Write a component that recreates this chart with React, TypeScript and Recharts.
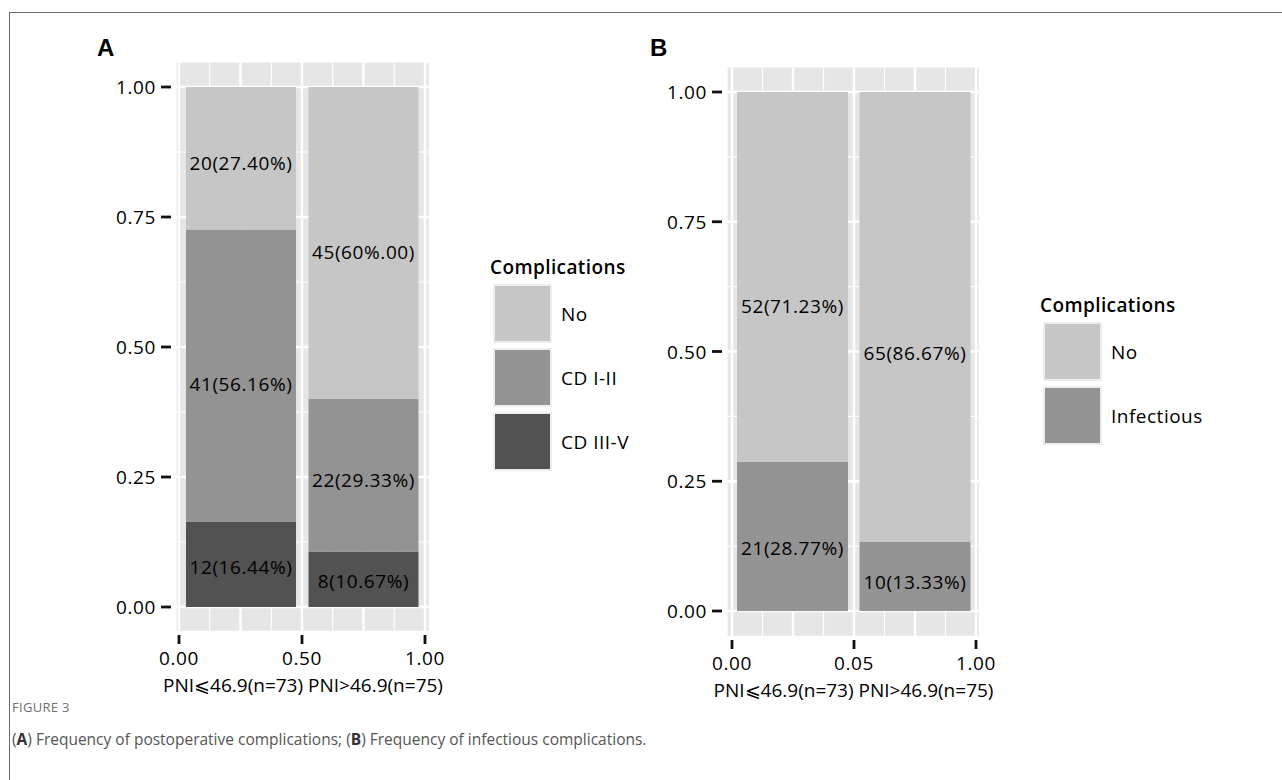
import React from "react";
import { ComposedChart, Bar, XAxis, YAxis, CartesianGrid, LabelList } from "recharts";

// ---- data ----
const groups = ["PNI⩽46.9(n=73)", "PNI>46.9(n=75)"];

// panel A: postoperative complications (share of each group)
const noA = [0.274, 0.6];
const cd12A = [0.5616, 0.2933];
const cd35A = [0.1644, 0.1067];
const noLabelsA = ["20(27.40%)", "45(60%.00)"];
const cd12LabelsA = ["41(56.16%)", "22(29.33%)"];
const cd35LabelsA = ["12(16.44%)", "8(10.67%)"];

// panel B: infectious complications
const noB = [0.7123, 0.8667];
const infB = [0.2877, 0.1333];
const noLabelsB = ["52(71.23%)", "65(86.67%)"];
const infLabelsB = ["21(28.77%)", "10(13.33%)"];

// axis ticks (grid every 0.125, labels on the majors)
const gridTicks = [0, 0.125, 0.25, 0.375, 0.5, 0.625, 0.75, 0.875, 1];
const yMajor = [0, 0.25, 0.5, 0.75, 1];
const yTickLabels = ["0.00", "0.25", "0.50", "0.75", "1.00"];
const xMajor = [0, 0.5, 1];
const xTickLabelsA = ["0.00", "0.50", "1.00"];
const xTickLabelsB = ["0.00", "0.05", "1.00"];
const xTitle = groups.join(" ");

const COLORS = { no: "#c6c6c6", mid: "#939393", dark: "#525252" };
const FONT = "'Open Sans', 'Noto Sans', sans-serif";

const dataA = groups.map((g, i) => ({
  group: g,
  cd35: cd35A[i],
  cd12: cd12A[i],
  no: noA[i],
  cd35Label: cd35LabelsA[i],
  cd12Label: cd12LabelsA[i],
  noLabel: noLabelsA[i],
}));

const dataB = groups.map((g, i) => ({
  group: g,
  inf: infB[i],
  no: noB[i],
  infLabel: infLabelsB[i],
  noLabel: noLabelsB[i],
}));

const textStyle = { fontFamily: FONT, fontSize: 19, fill: "#000000", letterSpacing: 0.6 };

function gridLine(p: any) {
  return (
    <line
      key={p.key ?? `${p.x1}-${p.y1}`}
      x1={p.x1}
      y1={p.y1}
      x2={p.x2}
      y2={p.y2}
      stroke="#ffffff"
      strokeWidth={p.index % 2 === 0 ? 2.4 : 1.2}
    />
  );
}

function YTick({ x, y, payload }: any) {
  const i = yMajor.indexOf(payload.value);
  if (i < 0) return <g />;
  return (
    <g>
      <line x1={x - 13} x2={x - 3} y1={y} y2={y} stroke="#111" strokeWidth={2.8} />
      <text x={x - 18} y={y} textAnchor="end" dominantBaseline="central" style={textStyle}>
        {yTickLabels[i]}
      </text>
    </g>
  );
}

const makeXTick = (labels: string[]) =>
  function XTick({ x, y, payload }: any) {
    const i = xMajor.indexOf(payload.value);
    if (i < 0) return <g />;
    return (
      <g>
        <line x1={x} x2={x} y1={y + 1} y2={y + 10} stroke="#111" strokeWidth={2.8} />
        <text x={x} y={y + 24} textAnchor="middle" dominantBaseline="central" style={textStyle}>
          {labels[i]}
        </text>
      </g>
    );
  };

const makeBarLabel = (frac: number) =>
  function BarLabel(props: any) {
    const vb = props.viewBox ?? props;
    const x = vb.x ?? props.x;
    const y = vb.y ?? props.y;
    const w = vb.width ?? props.width;
    const h = vb.height ?? props.height;
    return (
      <text x={x + w / 2} y={y + h * frac} textAnchor="middle" dominantBaseline="central" style={textStyle}>
        {props.value}
      </text>
    );
  };

interface LegendItem {
  label: string;
  color: string;
}

function LegendBox({ left, top, items }: { left: number; top: number; items: LegendItem[] }) {
  return (
    <div style={{ position: "absolute", left, top, fontFamily: FONT, color: "#000" }}>
      <div style={{ fontSize: 19, fontWeight: 600, lineHeight: "24px", letterSpacing: 0.4 }}>Complications</div>
      <div style={{ marginTop: 5, marginLeft: 3 }}>
        {items.map((it) => (
          <div key={it.label} style={{ display: "flex", alignItems: "center", height: 59, marginBottom: 5 }}>
            <div
              style={{
                width: 59,
                height: 59,
                boxSizing: "border-box",
                border: "2px solid #ededed",
                background: it.color,
              }}
            />
            <span style={{ marginLeft: 9, fontSize: 19, letterSpacing: 0.5 }}>{it.label}</span>
          </div>
        ))}
      </div>
    </div>
  );
}

function Panel({ data, left, margin, catPad, numPad, yPad, barSize, xLabels, labelFrac, children }: any) {
  return (
    <div style={{ position: "absolute", left, top: 0 }}>
      <ComposedChart width={640} height={705} data={data} margin={margin}>
        <CartesianGrid
          xAxisId="num"
          yAxisId="y"
          fill="#e6e6e6"
          stroke="#ffffff"
          horizontal={gridLine}
          vertical={gridLine}
        />
        <XAxis
          xAxisId="num"
          type="number"
          domain={[0, 1]}
          ticks={gridTicks}
          interval={0}
          allowDataOverflow
          padding={numPad}
          height={64}
          tickSize={0}
          tickLine={false}
          axisLine={false}
          tick={makeXTick(xLabels)}
          label={{
            value: xTitle,
            position: "insideBottom",
            offset: 4,
            style: { ...textStyle, letterSpacing: 0, textAnchor: "middle" },
          }}
        />
        <XAxis xAxisId="cat" dataKey="group" hide height={0} padding={catPad} />
        <YAxis
          yAxisId="y"
          type="number"
          domain={[0, 1]}
          ticks={gridTicks}
          interval={0}
          allowDataOverflow
          padding={yPad}
          width={60}
          tickSize={0}
          tickLine={false}
          axisLine={false}
          tick={YTick}
        />
        {children(barSize, makeBarLabel(labelFrac))}
      </ComposedChart>
    </div>
  );
}

export default function App() {
  return (
    <div
      style={{
        position: "absolute",
        left: 0,
        top: 0,
        width: 1282,
        height: 780,
        background: "#ffffff",
        overflow: "hidden",
      }}
    >
      <div
        style={{
          position: "absolute",
          left: 9,
          top: 12,
          width: 1290,
          height: 800,
          borderTop: "1px solid #6a6a6a",
          borderLeft: "1px solid #6a6a6a",
        }}
      />

      <Panel
        data={dataA}
        left={0}
        margin={{ top: 62, left: 116, right: 210, bottom: 9 }}
        catPad={{ left: 4, right: 5 }}
        numPad={{ left: 3, right: 5 }}
        yPad={{ top: 25, bottom: 25 }}
        barSize={110}
        xLabels={xTickLabelsA}
        labelFrac={0.53}
      >
        {(bs: number, Lbl: any) => [
          <Bar key="cd35" xAxisId="cat" yAxisId="y" dataKey="cd35" stackId="s" fill={COLORS.dark} barSize={bs} isAnimationActive={false}>
            <LabelList dataKey="cd35Label" content={Lbl} />
          </Bar>,
          <Bar key="cd12" xAxisId="cat" yAxisId="y" dataKey="cd12" stackId="s" fill={COLORS.mid} barSize={bs} isAnimationActive={false}>
            <LabelList dataKey="cd12Label" content={Lbl} />
          </Bar>,
          <Bar key="no" xAxisId="cat" yAxisId="y" dataKey="no" stackId="s" fill={COLORS.no} barSize={bs} isAnimationActive={false}>
            <LabelList dataKey="noLabel" content={Lbl} />
          </Bar>,
        ]}
      </Panel>

      <Panel
        data={dataB}
        left={560}
        margin={{ top: 67, left: 107, right: 220, bottom: 4 }}
        catPad={{ left: 4, right: 4 }}
        numPad={{ left: 5, right: 4 }}
        yPad={{ top: 25, bottom: 26 }}
        barSize={111}
        xLabels={xTickLabelsB}
        labelFrac={0.58}
      >
        {(bs: number, Lbl: any) => [
          <Bar key="inf" xAxisId="cat" yAxisId="y" dataKey="inf" stackId="s" fill={COLORS.mid} barSize={bs} isAnimationActive={false}>
            <LabelList dataKey="infLabel" content={Lbl} />
          </Bar>,
          <Bar key="no" xAxisId="cat" yAxisId="y" dataKey="no" stackId="s" fill={COLORS.no} barSize={bs} isAnimationActive={false}>
            <LabelList dataKey="noLabel" content={Lbl} />
          </Bar>,
        ]}
      </Panel>

      <div style={{ position: "absolute", left: 97, top: 34, fontFamily: "'Liberation Sans', Arial, sans-serif", fontWeight: 700, fontSize: 24 }}>A</div>
      <div style={{ position: "absolute", left: 650, top: 34, fontFamily: "'Liberation Sans', Arial, sans-serif", fontWeight: 700, fontSize: 24 }}>B</div>

      <LegendBox
        left={490}
        top={255}
        items={[
          { label: "No", color: COLORS.no },
          { label: "CD I-II", color: COLORS.mid },
          { label: "CD III-V", color: COLORS.dark },
        ]}
      />
      <LegendBox
        left={1040}
        top={293}
        items={[
          { label: "No", color: COLORS.no },
          { label: "Infectious", color: COLORS.mid },
        ]}
      />

      <div style={{ position: "absolute", left: 12, top: 698, fontFamily: FONT, fontSize: 13, color: "#707070", letterSpacing: 0.3 }}>
        FIGURE 3
      </div>
      <div style={{ position: "absolute", left: 12, top: 728, fontFamily: FONT, fontSize: 15.5, color: "#555555" }}>
        (<b style={{ color: "#333" }}>A</b>) Frequency of postoperative complications; (<b style={{ color: "#333" }}>B</b>) Frequency of infectious complications.
      </div>
    </div>
  );
}
